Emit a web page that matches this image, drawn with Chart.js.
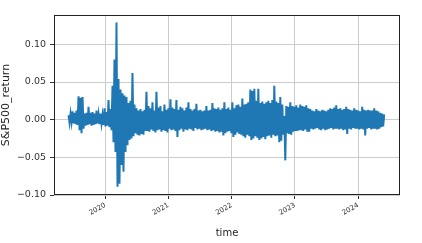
<!DOCTYPE html>
<html>
<head>
<meta charset="utf-8">
<script src="https://cdn.jsdelivr.net/npm/chart.js@4.4.1/dist/chart.umd.min.js"></script>
<style>
  html, body { margin: 0; padding: 0; background: #fff; }
  #wrap { width: 422px; height: 243px; }
</style>
</head>
<body>
<div id="wrap"><canvas id="chart" width="422" height="243"></canvas></div>
<script>
// S&P500 daily return (alternating highs / lows of the band)
const startYear = 2019.42;
const endYear = 2024.41;
const returns = [
    0.006,-0.004,0.008,-0.003,0.011,-0.005,0.009,-0.006,0.012,-0.007,
    0.031,-0.014,0.029,-0.018,0.030,-0.012,0.008,-0.008,0.009,-0.007,
    0.017,-0.006,0.009,-0.008,0.010,-0.007,0.008,-0.006,0.012,-0.005,
    0.007,-0.006,0.008,-0.005,0.006,-0.007,0.015,-0.009,0.010,-0.008,
    0.026,-0.010,0.014,-0.014,0.045,-0.030,0.080,-0.043,0.129,-0.089,
    0.054,-0.085,0.040,-0.060,0.035,-0.069,0.032,-0.043,0.030,-0.034,
    0.022,-0.027,0.025,-0.025,0.062,-0.022,0.020,-0.018,0.015,-0.020,
    0.012,-0.021,0.014,-0.019,0.011,-0.020,0.013,-0.015,0.037,-0.015,
    0.018,-0.016,0.015,-0.013,0.023,-0.015,0.012,-0.017,0.037,-0.014,
    0.016,-0.013,0.018,-0.016,0.011,-0.014,0.020,-0.015,0.013,-0.017,
    0.015,-0.012,0.027,-0.014,0.016,-0.013,0.014,-0.015,0.026,-0.023,
    0.013,-0.014,0.017,-0.012,0.015,-0.016,0.012,-0.013,0.016,-0.014,
    0.023,-0.012,0.014,-0.013,0.012,-0.015,0.014,-0.011,0.021,-0.013,
    0.012,-0.012,0.013,-0.014,0.011,-0.013,0.012,-0.012,0.018,-0.014,
    0.012,-0.013,0.013,-0.015,0.022,-0.014,0.015,-0.016,0.014,-0.015,
    0.016,-0.017,0.013,-0.016,0.015,-0.021,0.023,-0.018,0.014,-0.016,
    0.016,-0.015,0.013,-0.018,0.023,-0.023,0.015,-0.020,0.019,-0.017,
    0.020,-0.019,0.017,-0.020,0.028,-0.022,0.020,-0.024,0.021,-0.020,
    0.023,-0.022,0.040,-0.027,0.038,-0.025,0.041,-0.022,0.025,-0.024,
    0.041,-0.027,0.022,-0.025,0.024,-0.023,0.021,-0.026,0.023,-0.022,
    0.025,-0.021,0.022,-0.024,0.026,-0.020,0.045,-0.022,0.024,-0.021,
    0.022,-0.030,0.030,-0.028,0.020,-0.020,0.005,-0.054,0.018,-0.018,
    0.017,-0.019,0.023,-0.020,0.018,-0.016,0.017,-0.015,0.019,-0.015,
    0.016,-0.014,0.020,-0.014,0.018,-0.015,0.017,-0.013,0.019,-0.016,
    0.015,-0.016,0.014,-0.012,0.012,-0.013,0.011,-0.012,0.014,-0.011,
    0.012,-0.013,0.011,-0.014,0.013,-0.012,0.012,-0.014,0.011,-0.013,
    0.013,-0.012,0.015,-0.011,0.014,-0.013,0.016,-0.012,0.019,-0.012,
    0.014,-0.013,0.015,-0.012,0.013,-0.014,0.014,-0.013,0.017,-0.019,
    0.014,-0.012,0.013,-0.013,0.012,-0.011,0.015,-0.012,0.013,-0.012,
    0.012,-0.013,0.011,-0.012,0.017,-0.013,0.013,-0.021,0.012,-0.012,
    0.013,-0.011,0.012,-0.013,0.012,-0.012,0.015,-0.012,0.012,-0.013,
    0.011,-0.012,0.009,-0.010,0.008,-0.009,0.007
];

const xTicks = [2020, 2021, 2022, 2023, 2024];
const yTicks = [-0.10, -0.05, 0.00, 0.05, 0.10];
const xRange = [2019.19, 2024.66];
const yRange = [-0.10, 0.139];

const step = (endYear - startYear) / (returns.length - 1);
const points = returns.map((v, i) => ({ x: startYear + i * step, y: v }));

// matplotlib style frame around the axes
const framePlugin = {
    id: 'frame',
    afterDraw: function (chart) {
        const a = chart.chartArea;
        const ctx = chart.ctx;
        ctx.save();
        ctx.strokeStyle = '#222';
        ctx.lineWidth = 1;
        ctx.strokeRect(Math.round(a.left) + 0.5, Math.round(a.top) + 0.5,
            Math.round(a.right - a.left) - 1, Math.round(a.bottom - a.top) - 1);
        ctx.restore();
    }
};

const font = 'DejaVu Sans';

new Chart(document.getElementById('chart'), {
    type: 'line',
    data: {
        datasets: [{
            data: points,
            borderColor: '#1f77b4',
            borderWidth: 2,
            pointRadius: 0,
            tension: 0,
            fill: false
        }]
    },
    options: {
        responsive: false,
        animation: false,
        parsing: false,
        layout: { padding: { top: 15, right: 22, left: 0, bottom: 0 } },
        plugins: {
            legend: { display: false },
            tooltip: { enabled: false }
        },
        scales: {
            x: {
                type: 'linear',
                min: xRange[0],
                max: xRange[1],
                afterBuildTicks: function (scale) {
                    scale.ticks = xTicks.map(v => ({ value: v }));
                },
                afterFit: function (scale) { scale.height = 48; },
                border: { display: false },
                grid: { color: '#cccccc', lineWidth: 1, tickLength: 4, tickColor: '#333' },
                ticks: {
                    autoSkip: false,
                    minRotation: 30,
                    maxRotation: 30,
                    padding: 2,
                    color: '#333',
                    font: { family: font, size: 7 },
                    callback: v => String(v)
                },
                title: {
                    display: true,
                    text: 'time',
                    color: '#222',
                    font: { family: font, size: 10 },
                    padding: { top: 0, bottom: 4 }
                }
            },
            y: {
                min: yRange[0],
                max: yRange[1],
                afterBuildTicks: function (scale) {
                    scale.ticks = yTicks.map(v => ({ value: v }));
                },
                afterFit: function (scale) { scale.width = 54; },
                border: { display: false },
                grid: { color: '#cccccc', lineWidth: 1, tickLength: 4, tickColor: '#333' },
                ticks: {
                    padding: 4,
                    color: '#333',
                    font: { family: font, size: 9.5 },
                    callback: v => v.toFixed(2).replace('-', '\u2212')
                },
                title: {
                    display: true,
                    text: 'S&P500_return',
                    color: '#222',
                    font: { family: font, size: 11 },
                    padding: { top: 0, bottom: 0 }
                }
            }
        }
    },
    plugins: [framePlugin]
});
</script>
</body>
</html>
